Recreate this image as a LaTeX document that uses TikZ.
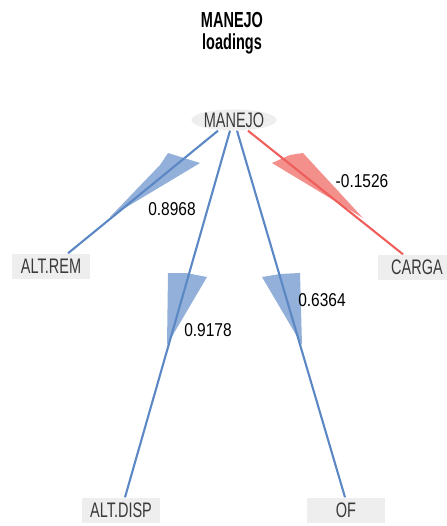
\documentclass[tikz,border=0pt]{standalone}
\usepackage{fontspec}
\setmainfont{Liberation Sans}
\usepackage{graphicx}
\usetikzlibrary{shapes.geometric}
\definecolor{boxgrey}{HTML}{EEEEEE}
\definecolor{txtgrey}{HTML}{3A3A3A}
\definecolor{posline}{HTML}{5B87C5}
\definecolor{posfill}{HTML}{7FA2D2}
\definecolor{negline}{HTML}{EE5F5B}
\definecolor{negfill}{HTML}{F27C78}
% stretched text
\newcommand\tall[1]{\scalebox{1}[1.45]{#1}}
\newcommand\wt[1]{\scalebox{1}[1.2]{#1}}
% arrow head of a loading
\newcommand\loadhead[2]{\fill[#1, fill opacity=.85] #2 -- cycle;}

\begin{document}
\begin{tikzpicture}[x=1pt, y=-1pt,
  var/.style={fill=boxgrey, text=txtgrey, minimum width=78, minimum height=25, inner sep=0,
    font=\fontsize{14.5}{14.5}\selectfont},
  posedge/.style={posline, line width=2.1pt},
  negedge/.style={negline, line width=2.1pt},
  wlabel/.style={inner sep=1, font=\fontsize{15.5}{15.5}\selectfont}]
\useasboundingbox (0,0) rectangle (446,526);
% title
\node (title) at (232,33) [align=center, font=\bfseries\fontsize{14.5}{18}\selectfont]
  {\scalebox{1}[1.5]{MANEJO}\\[4pt]\scalebox{1}[1.5]{loadings}};
% latent and indicators
\node (manejo) at (234,120) [ellipse, fill=boxgrey, text=txtgrey, minimum width=82, minimum height=20, inner sep=0,
  font=\fontsize{14.5}{14.5}\selectfont] {\tall{MANEJO}};
\node[var] (altrem) at (51,266) {\tall{ALT.REM}};
\node[var] (carga) at (417,267) {\tall{CARGA}};
\node[var] (altdisp) at (121,510) {\tall{ALT.DISP}};
\node[var] (of) at (346,510) {\tall{OF}};
% heads
\loadhead{posfill}{(160,165) -- (168,153) -- (200,163) -- (110,217)}
\loadhead{negfill}{(272,163) -- (290,155) -- (303,153) -- (363,218)}
\loadhead{posfill}{(168,273) -- (186,273) -- (207,277) -- (167,345)}
\loadhead{posfill}{(262,277) -- (280,274) -- (300,273) -- (302,345)}
% loadings
\draw[posedge] ([xshift=-16]manejo.south) -- ([xshift=17]altrem.north);
\draw[posedge] ([xshift=-4]manejo.south) -- ([xshift=4]altdisp.north);
\draw[posedge] ([xshift=3]manejo.south) -- ([xshift=-1]of.north);
\draw[negedge] ([xshift=14]manejo.south) -- ([xshift=-14]carga.north);
\node[wlabel] (w1) at (172,209) {\wt{0.8968}};
\node[wlabel] (w2) at (208,330) {\wt{0.9178}};
\node[wlabel] (w3) at (322,300) {\wt{0.6364}};
\node[wlabel] (w4) at (362,181) {\wt{-0.1526}};
\end{tikzpicture}
\end{document}
